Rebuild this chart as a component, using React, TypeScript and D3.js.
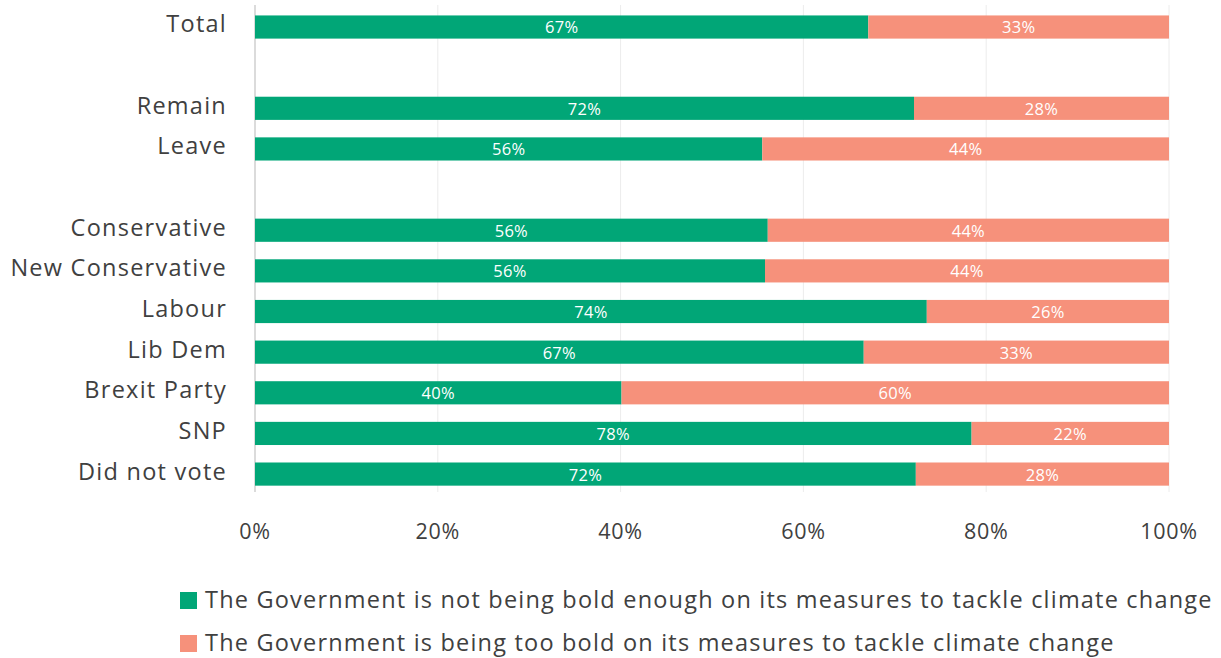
import React from "react";
import * as d3 from "d3";

const categories = ["Total", "", "Remain", "Leave", " ", "Conservative", "New Conservative", "Labour", "Lib Dem", "Brexit Party", "SNP", "Did not vote"];
const notBold = [67.1, null, 72.1, 55.5, null, 56.1, 55.8, 73.5, 66.6, 40.1, 78.4, 72.3];
const tooBold = [32.9, null, 27.9, 44.5, null, 43.9, 44.2, 26.5, 33.4, 59.9, 21.6, 27.7];
const notBoldLabels = ["67%", "", "72%", "56%", "", "56%", "56%", "74%", "67%", "40%", "78%", "72%"];
const tooBoldLabels = ["33%", "", "28%", "44%", "", "44%", "44%", "26%", "33%", "60%", "22%", "28%"];
const xTicks = [0, 20, 40, 60, 80, 100];
const seriesNames = [
  "The Government is not being bold enough on its measures to tackle climate change",
  "The Government is being too bold on its measures to tackle climate change",
];
const colors = ["#01A677", "#F6917B"];

const W = 1221, H = 658;
const FONT = "'Open Sans', sans-serif";

export default function App() {
  const x = d3.scaleLinear().domain([0, 100]).range([255, 1169]);
  const y = d3.scaleBand<string>().domain(categories).range([6.7, 494.4]).paddingInner(0.43).paddingOuter(0.215);
  const bw = y.bandwidth();
  return (
    <svg width={W} height={H} style={{ position: "absolute", left: 0, top: 0, fontFamily: FONT }}>
      {xTicks.slice(1).map((t) => (
        <line key={t} x1={x(t)} x2={x(t)} y1={5} y2={492} stroke="#ececec" strokeWidth={1} />
      ))}
      <line x1={x(0)} x2={x(0)} y1={5} y2={492} stroke="#cfcfcf" strokeWidth={1.5} />
      {categories.map((c, i) => {
        const v1 = notBold[i];
        const v2 = tooBold[i];
        if (v1 == null || v2 == null) return null;
        const y0 = y(c)!;
        return (
          <g key={i}>
            <rect x={x(0)} y={y0} width={x(v1) - x(0)} height={bw} fill={colors[0]} />
            <rect x={x(v1)} y={y0} width={x(v1 + v2) - x(v1)} height={bw} fill={colors[1]} />
            <text x={(x(0) + x(v1)) / 2} y={y0 + bw / 2 + 0.5} dy="0.36em" textAnchor="middle" fill="#fff" fontSize={16.5} letterSpacing={0.3}>{notBoldLabels[i]}</text>
            <text x={(x(v1) + x(v1 + v2)) / 2} y={y0 + bw / 2 + 0.5} dy="0.36em" textAnchor="middle" fill="#fff" fontSize={16.5} letterSpacing={0.3}>{tooBoldLabels[i]}</text>
            <text x={227} y={y0 + bw / 2 - 3} dy="0.36em" textAnchor="end" fill="#404040" fontSize={23.5} letterSpacing={1.25}>{c}</text>
          </g>
        );
      })}
      {xTicks.map((t) => (
        <text key={t} x={x(t)} y={531} dy="0.36em" textAnchor="middle" fill="#404040" fontSize={21.5} letterSpacing={0.7}>{t}%</text>
      ))}
      {seriesNames.map((s, i) => (
        <g key={s} transform={`translate(180, ${600 + i * 43})`}>
          <rect x={0} y={-8} width={17} height={17} fill={colors[i]} />
          <text x={25} y={0} dy="0.36em" fill="#404040" fontSize={23.5} letterSpacing={1.2}>{s}</text>
        </g>
      ))}
    </svg>
  );
}
